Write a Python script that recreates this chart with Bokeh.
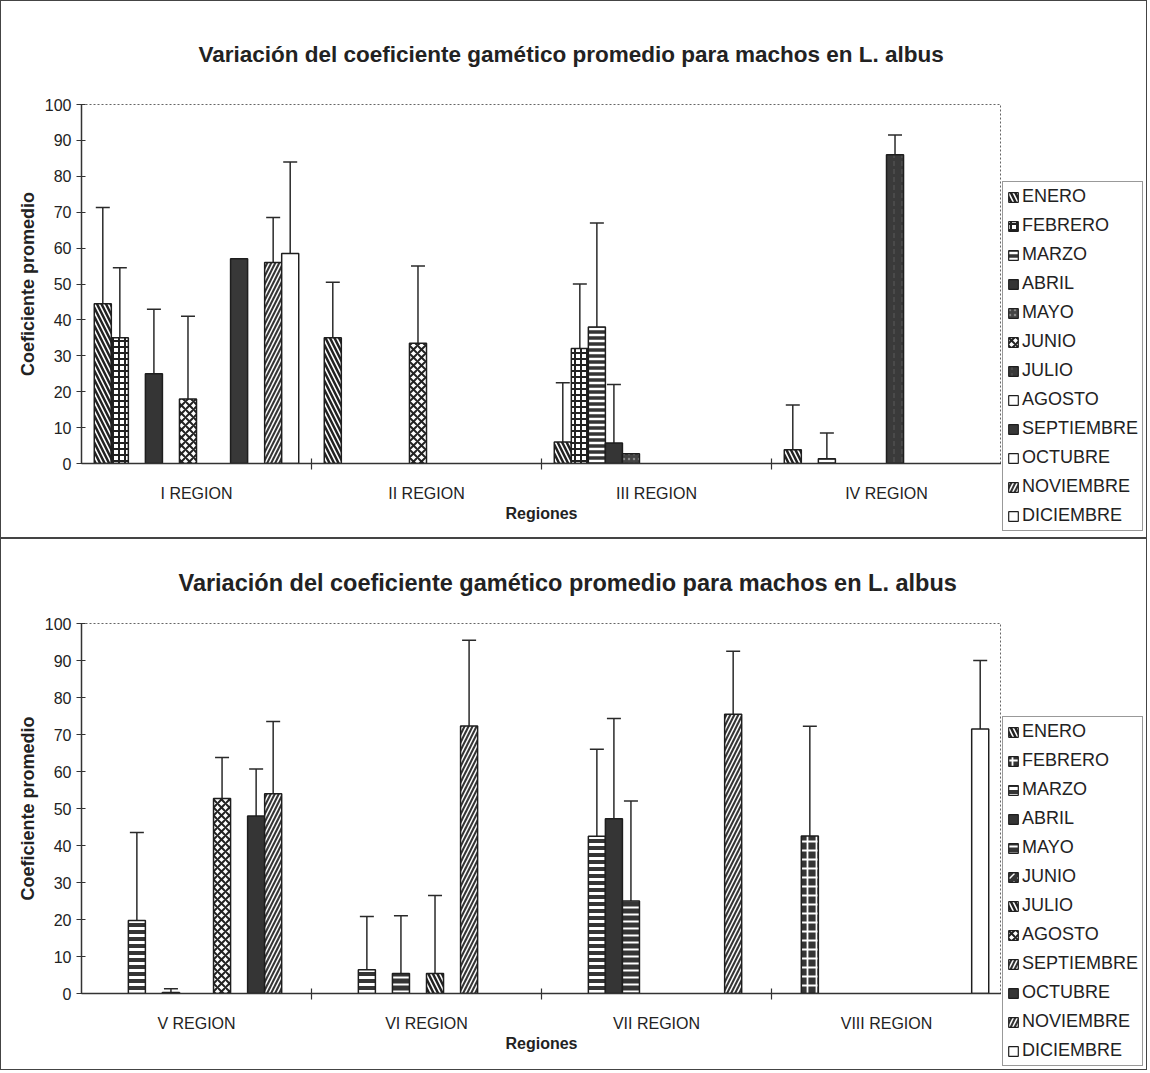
from bokeh.plotting import figure
from bokeh.models import (ColumnDataSource, Range1d, FixedTicker, Whisker, TeeHead,
                          Legend, LegendItem)
from bokeh.layouts import column, row
from bokeh.embed import file_html
from bokeh.resources import INLINE

# ---------------- data ----------------
months = ["ENERO", "FEBRERO", "MARZO", "ABRIL", "MAYO", "JUNIO", "JULIO",
          "AGOSTO", "SEPTIEMBRE", "OCTUBRE", "NOVIEMBRE", "DICIEMBRE"]

regions_top = ["I REGION", "II REGION", "III REGION", "IV REGION"]
regions_bot = ["V REGION", "VI REGION", "VII REGION", "VIII REGION"]

# mean coefficient per month (None = no data) and upper end of error bar
mean_I = [44.5, 35.0, None, 25.0, None, 18.0, None, None, 57.0, None, 56.0, 58.5]
err_I = [71.3, 54.5, None, 43.0, None, 41.0, None, None, None, None, 68.5, 84.0]
mean_II = [35.0, None, None, None, None, 33.5, None, None, None, None, None, None]
err_II = [50.5, None, None, None, None, 55.0, None, None, None, None, None, None]
mean_III = [6.0, 32.0, 38.0, 5.7, 2.7, None, None, None, None, None, None, None]
err_III = [22.5, 50.0, 67.0, 22.0, None, None, None, None, None, None, None, None]
mean_IV = [3.8, None, 1.3, None, None, None, 86.0, None, None, None, None, None]
err_IV = [16.3, None, 8.5, None, None, None, 91.5, None, None, None, None, None]

mean_V = [None, None, 19.7, None, 0.3, None, None, 52.7, None, 48.0, 54.0, None]
err_V = [None, None, 43.5, None, 1.3, None, None, 63.8, None, 60.7, 73.5, None]
mean_VI = [None, None, 6.4, None, 5.4, None, 5.4, None, 72.3, None, None, None]
err_VI = [None, None, 20.8, None, 21.0, None, 26.5, None, 95.5, None, None, None]
mean_VII = [None, None, 42.5, 47.2, 25.0, None, None, None, None, None, 75.5, None]
err_VII = [None, None, 66.0, 74.3, 52.0, None, None, None, None, None, 92.5, None]
mean_VIII = [None, 42.6, None, None, None, None, None, None, None, None, None, 71.5]
err_VIII = [None, 72.2, None, None, None, None, None, None, None, None, None, 90.0]

top_means = [mean_I, mean_II, mean_III, mean_IV]
top_errs = [err_I, err_II, err_III, err_IV]
bot_means = [mean_V, mean_VI, mean_VII, mean_VIII]
bot_errs = [err_V, err_VI, err_VII, err_VIII]

TITLE = "Variación del coeficiente gamético promedio para machos en L. albus"

# ---------------- styles ----------------
DARK = "#353535"
INK = "#222222"
W = "white"

def st(fill, hatch=None, hcolor=INK, scale=8, weight=2.0):
    d = dict(fill_color=fill)
    if hatch:
        d.update(hatch_pattern=hatch, hatch_color=hcolor, hatch_scale=scale,
                 hatch_weight=weight)
    return d

styles_top = [
    st(W, "\\", INK, 9, 2.5),     # ENERO
    st(W, "+", INK, 6, 2.0),      # FEBRERO
    st(DARK, "-", W, 6, 2.5),     # MARZO
    st(DARK),                     # ABRIL
    st("#444444", ".", "#8a8a8a", 5, 1.5),  # MAYO
    st(W, "x", INK, 8, 2.0),      # JUNIO
    st("#3a3a3a", ":", "#5a5a5a", 8, 1.0),  # JULIO
    st(W),                        # AGOSTO
    st("#383838"),                # SEPTIEMBRE
    st(W),                        # OCTUBRE
    st(DARK, "/", W, 8, 1.5),     # NOVIEMBRE
    st(W),                        # DICIEMBRE
]
styles_bot = [
    st(W, "\\", INK, 9, 2.5),     # ENERO
    st(DARK, "+", W, 9, 1.8),     # FEBRERO
    st(DARK, "-", W, 7, 3.0),     # MARZO
    st(DARK),                     # ABRIL
    st(DARK, "-", W, 7, 2.0),     # MAYO
    st(DARK, ",", W, 8, 1.5),     # JUNIO
    st(W, "\\", INK, 9, 2.5),     # JULIO
    st(W, "x", INK, 8, 2.0),      # AGOSTO
    st(DARK, "/", W, 8, 1.5),     # SEPTIEMBRE
    st(DARK),                     # OCTUBRE
    st(DARK, "/", W, 8, 1.5),     # NOVIEMBRE
    st(W),                        # DICIEMBRE
]

FONT = "Liberation Sans"
NSLOT = 13.5  # 12 bars + 150% gap
TOTAL_W = 1145
NAN = float("nan")


def make_chart(regions, means, errs, styles, H, main_w, fr_top, fr_bottom,
               title_size, title_standoff, title_offset, leg_x, leg_y):
    p = figure(width=main_w, height=H, output_backend="svg", toolbar_location=None,
               x_range=Range1d(0, len(regions)), y_range=Range1d(0, 100),
               min_border_left=80, min_border_right=0,
               min_border_top=fr_top, min_border_bottom=H - fr_bottom,
               background_fill_color="white", border_fill_color="white")
    p.frame_align = False
    p.title.text = TITLE
    p.title.align = "left"
    p.title.text_font = FONT
    p.title.text_font_size = title_size
    p.title.text_font_style = "bold"
    p.title.text_color = INK
    p.title.standoff = title_standoff
    p.title.offset = title_offset

    p.xgrid.visible = False
    p.ygrid.visible = False
    p.outline_line_color = "#666666"
    p.outline_line_dash = "2 2"
    p.outline_line_width = 1

    # y axis
    p.yaxis.ticker = FixedTicker(ticks=list(range(0, 101, 10)))
    p.yaxis.axis_label = "Coeficiente promedio"
    p.yaxis.major_tick_in = 4
    p.yaxis.major_tick_out = 5
    # x axis
    centers = [i + 0.5 for i in range(len(regions))]
    p.xaxis.ticker = FixedTicker(ticks=centers, minor_ticks=list(range(1, len(regions))))
    p.xaxis.major_label_overrides = {c: r for c, r in zip(centers, regions)}
    p.xaxis.minor_tick_in = 5
    p.xaxis.minor_tick_out = 6
    p.xaxis.axis_label = "Regiones"
    p.xaxis.major_label_standoff = 15
    for ax in (p.xaxis[0], p.yaxis[0]):
        ax.axis_line_color = "#333333"
        ax.axis_line_width = 1.5
        ax.major_tick_line_width = 1.2
        ax.minor_tick_line_width = 1.2
        ax.major_label_text_font = FONT
        ax.major_label_text_font_size = "16px"
        ax.major_label_text_color = INK
        ax.axis_label_text_font = FONT
        ax.axis_label_text_font_style = "bold"
        ax.axis_label_text_color = INK
    p.xaxis.major_tick_line_color = None
    p.xaxis.minor_tick_line_color = "#333333"
    p.yaxis.major_tick_line_color = "#333333"
    p.yaxis.minor_tick_line_color = None
    p.xaxis.axis_label_text_font_size = "16px"
    p.yaxis.axis_label_text_font_size = "18px"
    p.yaxis.axis_label_standoff = 4
    p.xaxis.axis_label_standoff = 0

    # legend holder figure (to the right of the plot)
    lf = figure(width=TOTAL_W - main_w, height=H, output_backend="svg",
                toolbar_location=None, x_range=Range1d(0, 1), y_range=Range1d(0, 1),
                x_axis_type=None, y_axis_type=None, min_border=0,
                background_fill_color="white", border_fill_color="white")
    lf.frame_align = False
    lf.outline_line_color = None
    lf.xgrid.visible = False
    lf.ygrid.visible = False

    items = []
    wx, wb, wu = [], [], []
    for k, m in enumerate(months):
        xs, tops = [], []
        for i in range(len(regions)):
            v = means[i][k]
            if v is None:
                continue
            x = i + (0.75 + k + 0.5) / NSLOT
            xs.append(x)
            tops.append(v)
            e = errs[i][k]
            if e is not None:
                wx.append(x)
                wb.append(v)
                wu.append(e)
        src = ColumnDataSource(dict(x=xs, top=tops))
        p.vbar(x="x", top="top", bottom=0, width=1.0 / NSLOT, source=src,
               line_color="#1e1e1e", line_width=1.5, **styles[k])
        # swatch renderer for the legend (no visible data)
        sw = lf.vbar(x=[NAN], top=[NAN], bottom=0, width=0.1,
                     line_color="#1e1e1e", line_width=1.2, **styles[k])
        items.append(LegendItem(label=m, renderers=[sw]))

    wsrc = ColumnDataSource(dict(x=wx, lower=wb, upper=wu))
    wh = Whisker(base="x", lower="lower", upper="upper", source=wsrc,
                 line_color="#2a2a2a", line_width=1.5, lower_head=None,
                 upper_head=TeeHead(size=14, line_color="#2a2a2a", line_width=1.5))
    p.add_layout(wh)

    leg = Legend(items=items, location=(leg_x, leg_y), orientation="vertical")
    leg.label_text_font = FONT
    leg.label_text_font_size = "18px"
    leg.label_text_color = INK
    leg.glyph_width = 12
    leg.glyph_height = 12
    leg.label_height = 19
    leg.label_standoff = 3
    leg.spacing = 8
    leg.padding = 4
    leg.margin = 0
    leg.border_line_color = "#333333"
    leg.border_line_width = 1.2
    leg.background_fill_color = "white"
    leg.background_fill_alpha = 1.0
    lf.add_layout(leg, "center")

    r = row(p, lf, spacing=0, styles={"border": "1.5px solid #444"})
    return r


r1 = make_chart(regions_top, top_means, top_errs, styles_top, H=536, main_w=1000,
                fr_top=102, fr_bottom=462, title_size="22.5px", title_standoff=76,
                title_offset=117, leg_x=1, leg_y=6)
r2 = make_chart(regions_bot, bot_means, bot_errs, styles_bot, H=530, main_w=1000,
                fr_top=82, fr_bottom=454, title_size="23.5px", title_standoff=56,
                title_offset=97, leg_x=1, leg_y=3)

layout = column(r1, r2, spacing=0)
open("out.html", "w").write(file_html(layout, INLINE))
